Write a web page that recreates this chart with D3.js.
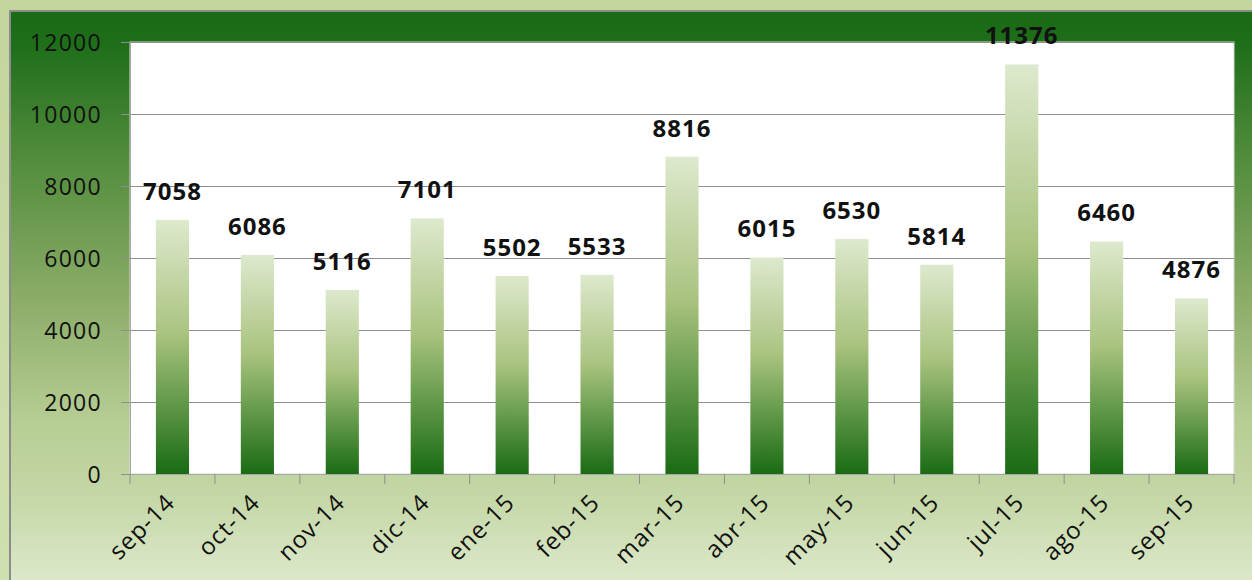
<!DOCTYPE html>
<html><head><meta charset="utf-8">
<script src="https://cdn.jsdelivr.net/npm/d3@7/dist/d3.min.js"></script>
<style>html,body{margin:0;padding:0;background:#c7d9a2;}svg{display:block;}</style>
</head><body>
<svg id="c" width="1252" height="580"></svg>
<script>
const categories = ["sep-14","oct-14","nov-14","dic-14","ene-15","feb-15","mar-15","abr-15","may-15","jun-15","jul-15","ago-15","sep-15"];
const values = [7058,6086,5116,7101,5502,5533,8816,6015,6530,5814,11376,6460,4876];
const yTicks = [0,2000,4000,6000,8000,10000,12000];

const svg = d3.select("#c");
const W = 1252, H = 580;
const defs = svg.append("defs");

const bg = defs.append("linearGradient").attr("id","bgG").attr("x1",0).attr("y1",0).attr("x2",0).attr("y2",1);
[[0,"#c3d59c"],[1,"#cfe0b0"]].forEach(s=>bg.append("stop").attr("offset",s[0]).attr("stop-color",s[1]));
const fr = defs.append("linearGradient").attr("id","frG").attr("gradientUnits","userSpaceOnUse").attr("x1",0).attr("y1",10).attr("x2",0).attr("y2",580);
[[0,"#196a15"],[0.06,"#1f6e1a"],[0.25,"#4f8b3b"],[0.5,"#8aab66"],[0.72,"#b6cd93"],[0.85,"#c4d7a6"],[1,"#dce8c9"]].forEach(s=>fr.append("stop").attr("offset",s[0]).attr("stop-color",s[1]));
const barG = defs.append("linearGradient").attr("id","barG").attr("x1",0).attr("y1",0).attr("x2",0).attr("y2",1);
[[0,"#dde9cd"],[0.45,"#a9c37f"],[0.75,"#5a9443"],[1,"#1a6b14"]].forEach(s=>barG.append("stop").attr("offset",s[0]).attr("stop-color",s[1]));

svg.append("rect").attr("width",W).attr("height",H).attr("fill","url(#bgG)");
svg.append("rect").attr("x",10).attr("y",11).attr("width",W).attr("height",H).attr("fill","url(#frG)")
  .attr("stroke","#8c8c8c").attr("stroke-width",2);

const L = 130, R = 1234, T = 42, B = 474;
const x = d3.scaleBand().domain(categories).range([L,R]).padding(0);
const y = d3.scaleLinear().domain([0,12000]).range([B,T]);

svg.append("rect").attr("x",L).attr("y",T).attr("width",R-L).attr("height",B-T).attr("fill","#fff")
  .attr("stroke","#d9d9d9").attr("stroke-width",1);

// gridlines
svg.append("g").selectAll("line").data(yTicks.filter(d=>d>0)).join("line")
  .attr("x1",L).attr("x2",R).attr("y1",d=>y(d)+0.5).attr("y2",d=>y(d)+0.5)
  .attr("stroke","#8e8e8e").attr("stroke-width",1);

// y axis
const yAxis = d3.axisLeft(y).tickValues(yTicks).tickSize(9).tickPadding(19).tickFormat(d3.format("d"));
const gy = svg.append("g").attr("transform",`translate(${L},0)`).call(yAxis);
gy.select(".domain").attr("stroke","#a6a6a6");
gy.selectAll(".tick line").attr("stroke","#8e8e8e");
gy.selectAll("text").attr("font-family","'Open Sans', sans-serif").attr("font-size",23).attr("fill","#111")
  .attr("letter-spacing","1.3px").attr("dy","0.36em");

// bars
const bw = x.bandwidth()*0.39;
svg.append("g").selectAll("rect").data(values).join("rect")
  .attr("x",(d,i)=>x(categories[i])+x.bandwidth()/2-bw/2)
  .attr("y",d=>y(d)).attr("width",bw).attr("height",d=>B-y(d))
  .attr("fill","url(#barG)");

// value labels
svg.append("g").selectAll("text").data(values).join("text")
  .attr("x",(d,i)=>x(categories[i])+x.bandwidth()/2)
  .attr("y",d=>y(d)-20)
  .attr("text-anchor","middle")
  .attr("font-family","'Open Sans', sans-serif").attr("font-weight","bold").attr("font-size",24)
  .attr("letter-spacing","1px").attr("fill","#111")
  .text(d=>d);

// x axis
const gx = svg.append("g").attr("transform",`translate(0,${B})`);
gx.append("line").attr("x1",L).attr("x2",R).attr("y1",0.5).attr("y2",0.5).attr("stroke","#a6a6a6");
const bounds = categories.map(c=>x(c)).concat([R]);
gx.selectAll("line.tk").data(bounds).join("line").attr("class","tk")
  .attr("x1",d=>d).attr("x2",d=>d).attr("y1",0).attr("y2",10).attr("stroke","#8e8e8e");
gx.selectAll("text").data(categories).join("text")
  .attr("transform",c=>`translate(${x(c)+x.bandwidth()/2+4},${30}) rotate(-45)`)
  .attr("text-anchor","end")
  .attr("font-family","'Open Sans', sans-serif").attr("font-size",24).attr("letter-spacing","1px")
  .attr("fill","#111")
  .text(c=>c);
</script>
</body></html>
